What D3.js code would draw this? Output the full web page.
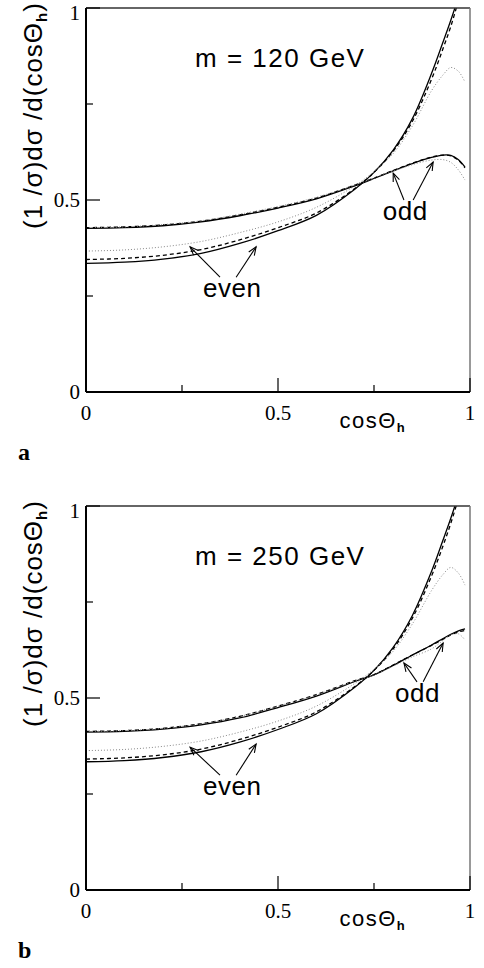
<!DOCTYPE html>
<html>
<head>
<meta charset="utf-8">
<script src="https://cdn.jsdelivr.net/npm/d3@7"></script>
<style>
  body { margin: 0; background: #fff; }
  svg { display: block; }
  .serif { font-family: "Liberation Serif", "Times New Roman", serif; }
  .sans { font-family: "Liberation Sans", Arial, sans-serif; }
</style>
</head>
<body>
<div id="chart"></div>
<script>
// cos(theta_h) sample points
const xs = [0, 0.1, 0.2, 0.3, 0.4, 0.5, 0.6, 0.7, 0.75, 0.8, 0.85, 0.9, 0.93, 0.95, 0.97, 0.987];

// panel a: m = 120 GeV
const evenSolidA = [.335, .338, .346, .361, .387, .420, .460, .528, .572, .630, .712, .830, .912, .968, 1.03, 1.09];
const evenDashA  = [.345, .348, .356, .371, .396, .428, .466, .530, .572, .627, .705, .815, .895, .952, 1.02, 1.08];
const evenDotA   = [.367, .370, .378, .392, .415, .443, .481, .537, .574, .621, .693, .785, .826, .845, .835, .807];
const oddSolidA  = [.426, .428, .433, .443, .459, .479, .503, .537, .556, .576, .595, .611, .617, .616, .605, .586];
const oddDashA   = [.428, .430, .435, .445, .461, .481, .505, .539, .557, .577, .596, .612, .617, .615, .603, .584];
const oddDotA    = [.428, .430, .436, .446, .463, .483, .507, .539, .557, .575, .592, .604, .605, .598, .578, .552];

// panel b: m = 250 GeV
const evenSolidB = [.334, .337, .345, .360, .385, .418, .459, .528, .572, .632, .715, .830, .912, .968, 1.03, 1.09];
const evenDashB  = [.341, .344, .352, .367, .392, .424, .464, .530, .572, .628, .708, .818, .897, .955, 1.02, 1.08];
const evenDotB   = [.363, .366, .374, .388, .411, .440, .479, .538, .575, .622, .693, .780, .822, .840, .825, .794];
const oddSolidB  = [.411, .413, .419, .430, .448, .475, .505, .543, .560, .585, .612, .638, .655, .666, .675, .680];
const oddDashB   = [.413, .415, .421, .433, .452, .479, .509, .545, .561, .586, .612, .637, .653, .664, .672, .676];
const oddDotB    = [.413, .415, .421, .433, .452, .479, .508, .544, .560, .583, .607, .628, .650, .664, .667, .651];

const majorTicks = [0, 0.5, 1];
const minorTicks = [0.25, 0.75];
const tickLabels = ["0", "0.5", "1"];

const W = 484, H = 968;
const size = 384;

const svg = d3.select("#chart").append("svg")
    .attr("width", W)
    .attr("height", H);

const x = d3.scaleLinear().domain([0, 1]).range([0, size]);
const y = d3.scaleLinear().domain([0, 1]).range([size, 0]);

const line = d3.line()
    .x(d => x(d[0]))
    .y(d => y(d[1]))
    .curve(d3.curveCatmullRom);

function drawPanel(top, id, mass, series, evenArrows, oddArrows, oddPos, letter) {
  const g = svg.append("g").attr("transform", `translate(86,${top})`);

  g.append("clipPath").attr("id", id)
    .append("rect").attr("width", size).attr("height", size);

  // curves: solid, dashed, dotted for each parity
  const styles = [
    { dash: null, color: "#000", w: 1.3 },
    { dash: "4,3", color: "#000", w: 1.3 },
    { dash: "1,2", color: "#888", w: 1 }
  ];
  series.forEach((vals, i) => {
    const s = styles[i % 3];
    g.append("path")
      .datum(xs.map((v, j) => [v, vals[j]]))
      .attr("clip-path", `url(#${id})`)
      .attr("fill", "none")
      .attr("stroke", s.color)
      .attr("stroke-width", s.w)
      .attr("stroke-dasharray", s.dash)
      .attr("d", line);
  });

  // frame
  g.append("line").attr("x1", 0).attr("x2", size).attr("y1", 0).attr("y2", 0)
    .attr("stroke", "#333").attr("stroke-width", 1.5);
  g.append("line").attr("x1", size).attr("x2", size).attr("y1", 0).attr("y2", size)
    .attr("stroke", "#777").attr("stroke-width", 1.5);
  g.append("line").attr("x1", 0).attr("x2", 0).attr("y1", 0).attr("y2", size)
    .attr("stroke", "#000").attr("stroke-width", 2);
  g.append("line").attr("x1", 0).attr("x2", size).attr("y1", size).attr("y2", size)
    .attr("stroke", "#000").attr("stroke-width", 2);

  // ticks (inward)
  majorTicks.concat(minorTicks).forEach(t => {
    const len = majorTicks.includes(t) ? 14 : 7;
    g.append("line").attr("x1", 0).attr("x2", len).attr("y1", y(t)).attr("y2", y(t))
      .attr("stroke", "#000").attr("stroke-width", 1.2);
    g.append("line").attr("x1", x(t)).attr("x2", x(t)).attr("y1", size).attr("y2", size - len)
      .attr("stroke", "#000").attr("stroke-width", 1.2);
  });

  majorTicks.forEach((t, i) => {
    g.append("text").attr("class", "serif")
      .attr("x", -6).attr("y", y(t) + (t === 1 ? 12 : 7))
      .attr("text-anchor", "end").attr("font-size", 21)
      .text(tickLabels[i]);
    g.append("text").attr("class", "serif")
      .attr("x", x(t)).attr("y", size + 28)
      .attr("text-anchor", "middle").attr("font-size", 21)
      .text(tickLabels[i]);
  });

  // x axis title
  const xt = g.append("text").attr("class", "sans")
    .attr("x", x(0.66)).attr("y", size + 36)
    .attr("font-size", 22).attr("letter-spacing", 1.5);
  xt.append("tspan").text("cosΘ");
  xt.append("tspan").attr("font-size", 13).attr("font-weight", "bold").attr("dy", 4).text("h");

  // y axis title
  const yt = g.append("text").attr("class", "sans")
    .attr("transform", `translate(-44,${y(0.72)}) rotate(-90)`)
    .attr("text-anchor", "middle")
    .attr("font-size", 26).attr("letter-spacing", 1);
  yt.append("tspan").text("(1 /σ)dσ /d(cosΘ");
  yt.append("tspan").attr("font-size", 15).attr("font-weight", "bold").attr("dy", 5).text("h");
  yt.append("tspan").attr("dy", -5).text(")");

  // mass label
  g.append("text").attr("class", "sans")
    .attr("x", x(0.284)).attr("y", y(0.846))
    .attr("font-size", 26).attr("letter-spacing", 1.5)
    .text(mass);

  // annotations
  g.append("text").attr("class", "sans")
    .attr("x", x(0.305)).attr("y", y(0.247))
    .attr("font-size", 26).attr("letter-spacing", 0.5)
    .text("even");
  g.append("text").attr("class", "sans")
    .attr("x", x(oddPos[0])).attr("y", y(oddPos[1]))
    .attr("font-size", 26).attr("letter-spacing", 0.5)
    .text("odd");

  evenArrows.concat(oddArrows).forEach(a => {
    const x1 = x(a[0]), y1 = y(a[1]), x2 = x(a[2]), y2 = y(a[3]);
    const ang = Math.atan2(y2 - y1, x2 - x1);
    const hl = 9, ha = 0.38;
    g.append("line").attr("x1", x1).attr("y1", y1).attr("x2", x2).attr("y2", y2)
      .attr("stroke", "#000").attr("stroke-width", 1.1);
    g.append("path")
      .attr("d", `M${x2 - hl * Math.cos(ang - ha)},${y2 - hl * Math.sin(ang - ha)}L${x2},${y2}L${x2 - hl * Math.cos(ang + ha)},${y2 - hl * Math.sin(ang + ha)}`)
      .attr("fill", "none").attr("stroke", "#000").attr("stroke-width", 1.1);
  });

  svg.append("text").attr("class", "serif")
    .attr("x", 18).attr("y", top + size + 68)
    .attr("font-size", 24).attr("font-weight", "bold")
    .text(letter);
}

drawPanel(8, "clipA", "m = 120 GeV",
  [evenSolidA, evenDashA, evenDotA, oddSolidA, oddDashA, oddDotA],
  [[0.349, 0.299, 0.271, 0.378], [0.391, 0.299, 0.443, 0.378]],
  [[0.828, 0.500, 0.800, 0.570], [0.852, 0.500, 0.904, 0.599]],
  [0.773, 0.448], "a");

drawPanel(506, "clipB", "m = 250 GeV",
  [evenSolidB, evenDashB, evenDotB, oddSolidB, oddDashB, oddDotB],
  [[0.349, 0.299, 0.271, 0.372], [0.391, 0.299, 0.443, 0.380]],
  [[0.862, 0.542, 0.828, 0.591], [0.878, 0.542, 0.930, 0.643]],
  [0.805, 0.490], "b");
</script>
</body>
</html>
